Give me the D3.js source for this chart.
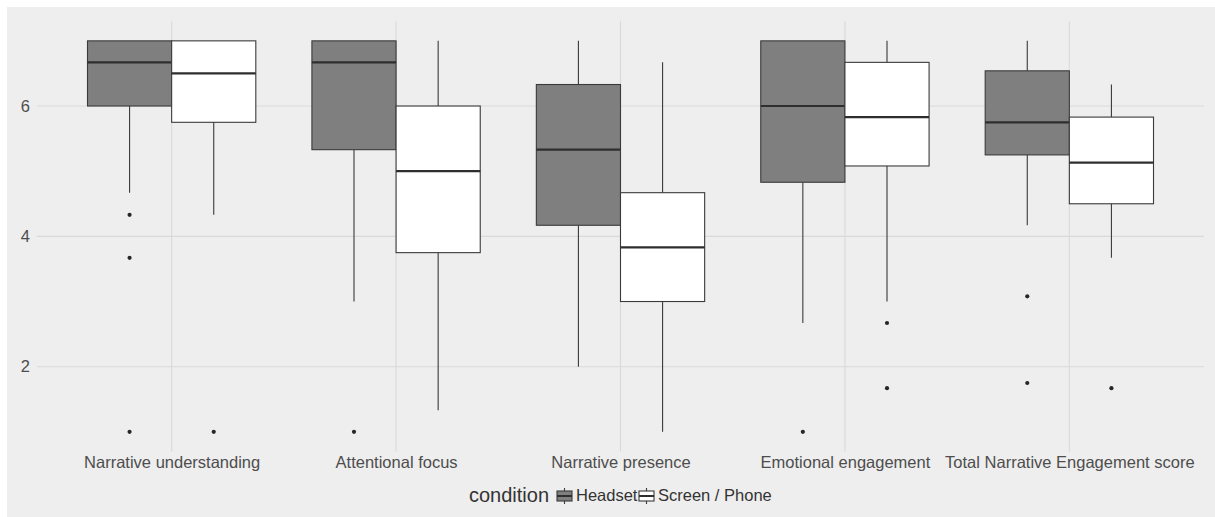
<!DOCTYPE html>
<html>
<head>
<meta charset="utf-8">
<script src="https://cdn.jsdelivr.net/npm/d3@7"></script>
<style>
  html, body { margin: 0; padding: 0; background: #ffffff; }
  svg { display: block; font-family: "Liberation Sans", Arial, sans-serif; }
</style>
</head>
<body>
<svg id="chart" width="1215" height="517"></svg>
<script>
// Narrative engagement subscales by viewing condition (scores on a 1–7 scale)
const categories = [
  "Narrative understanding",
  "Attentional focus",
  "Narrative presence",
  "Emotional engagement",
  "Total Narrative Engagement score"
];
const conditions = ["Headset", "Screen / Phone"];

// Headset: whisker ends, quartiles, medians and outliers
const headsetLow    = [4.67, 3.00, 2.00, 2.67, 4.17];
const headsetQ1     = [6.00, 5.33, 4.17, 4.83, 5.25];
const headsetMedian = [6.67, 6.67, 5.33, 6.00, 5.75];
const headsetQ3     = [7.00, 7.00, 6.33, 7.00, 6.54];
const headsetHigh   = [7.00, 7.00, 7.00, 7.00, 7.00];
const headsetOutliers = [[4.33, 3.67, 1.00], [1.00], [], [1.00], [3.08, 1.75]];

// Screen / Phone
const screenLow    = [4.33, 1.33, 1.00, 3.00, 3.67];
const screenQ1     = [5.75, 3.75, 3.00, 5.08, 4.50];
const screenMedian = [6.50, 5.00, 3.83, 5.83, 5.13];
const screenQ3     = [7.00, 6.00, 4.67, 6.67, 5.83];
const screenHigh   = [7.00, 7.00, 6.67, 7.00, 6.33];
const screenOutliers = [[1.00], [], [], [2.67, 1.67], [1.67]];

const yTicks = [2, 4, 6];

// Assemble one record per box
const boxes = [];
categories.forEach((c, i) => {
  boxes.push({ cat: c, cond: conditions[0], low: headsetLow[i], q1: headsetQ1[i], med: headsetMedian[i], q3: headsetQ3[i], high: headsetHigh[i], out: headsetOutliers[i] });
  boxes.push({ cat: c, cond: conditions[1], low: screenLow[i], q1: screenQ1[i], med: screenMedian[i], q3: screenQ3[i], high: screenHigh[i], out: screenOutliers[i] });
});

const fills = { "Headset": "#7f7f7f", "Screen / Phone": "#ffffff" };
const lineCol = "#3a3a3a";
const textCol = "#4d4d4d";

const svg = d3.select("#chart");

// plot background
svg.append("rect").attr("x", 7).attr("y", 7).attr("width", 1208).attr("height", 510).attr("fill", "#eeeeee");

const panel = { left: 37, right: 1204, top: 21.3, bottom: 451.4 };

const x = d3.scalePoint().domain(categories).range([panel.left, panel.right]).padding(0.6);
const y = d3.scaleLinear().domain([0.7, 7.3]).range([panel.bottom, panel.top]);
const dodge = d3.scaleBand().domain(conditions).range([-0.375 * x.step(), 0.375 * x.step()]).padding(0);

// grid
const grid = svg.append("g").attr("stroke", "#d9d9d9").attr("stroke-width", 1.1);
grid.selectAll("line.h").data(yTicks).join("line")
  .attr("x1", panel.left).attr("x2", panel.right)
  .attr("y1", d => y(d)).attr("y2", d => y(d));
grid.selectAll("line.v").data(categories).join("line")
  .attr("y1", panel.top).attr("y2", panel.bottom)
  .attr("x1", d => x(d)).attr("x2", d => x(d));

// axes (labels only)
const yAxis = svg.append("g").attr("transform", `translate(${panel.left},0)`)
  .call(d3.axisLeft(y).tickValues(yTicks).tickFormat(d3.format("d")).tickSize(0).tickPadding(7));
yAxis.select(".domain").remove();
yAxis.selectAll("text").attr("fill", textCol).style("font-size", "16.5px").style("font-family", "Liberation Sans, Arial, sans-serif");

const xAxis = svg.append("g").attr("transform", `translate(0,${panel.bottom})`)
  .call(d3.axisBottom(x).tickSize(0).tickPadding(5));
xAxis.select(".domain").remove();
xAxis.selectAll("text").attr("fill", textCol).style("font-size", "16.5px").style("font-family", "Liberation Sans, Arial, sans-serif");

// boxplots
const g = svg.append("g").selectAll("g").data(boxes).join("g")
  .attr("transform", d => `translate(${x(d.cat) + dodge(d.cond)},0)`);
const bw = dodge.bandwidth();

g.append("line").attr("x1", bw / 2).attr("x2", bw / 2)
  .attr("y1", d => y(d.q3)).attr("y2", d => y(d.high))
  .attr("stroke", lineCol).attr("stroke-width", 1.1);
g.append("line").attr("x1", bw / 2).attr("x2", bw / 2)
  .attr("y1", d => y(d.q1)).attr("y2", d => y(d.low))
  .attr("stroke", lineCol).attr("stroke-width", 1.1);
g.append("rect").attr("x", 0).attr("width", bw)
  .attr("y", d => y(d.q3)).attr("height", d => y(d.q1) - y(d.q3))
  .attr("fill", d => fills[d.cond]).attr("stroke", lineCol).attr("stroke-width", 1.1);
g.append("line").attr("x1", 0).attr("x2", bw)
  .attr("y1", d => y(d.med)).attr("y2", d => y(d.med))
  .attr("stroke", "#2e2e2e").attr("stroke-width", 2.2);
g.selectAll("circle").data(d => d.out).join("circle")
  .attr("cx", bw / 2).attr("cy", v => y(v)).attr("r", 2.1).attr("fill", "#262626");

// legend
const legend = svg.append("g");
legend.append("text").attr("x", 469).attr("y", 502).text("condition")
  .attr("fill", "#333").style("font-size", "20px");
const keyX = [557, 639];
const labelX = [576, 658];
const ky0 = 488, ky1 = 504;
conditions.forEach((c, i) => {
  const kx = keyX[i], kw = 15, cx = kx + kw / 2;
  const k = legend.append("g");
  k.append("line").attr("x1", cx).attr("x2", cx).attr("y1", ky0).attr("y2", ky1)
    .attr("stroke", lineCol).attr("stroke-width", 1.1);
  k.append("rect").attr("x", kx).attr("y", ky0 + 3).attr("width", kw).attr("height", ky1 - ky0 - 6)
    .attr("fill", fills[c]).attr("stroke", lineCol).attr("stroke-width", 1.1);
  k.append("line").attr("x1", kx).attr("x2", kx + kw).attr("y1", (ky0 + ky1) / 2).attr("y2", (ky0 + ky1) / 2)
    .attr("stroke", "#2e2e2e").attr("stroke-width", 2);
  legend.append("text").attr("x", labelX[i]).attr("y", 501).text(c)
    .attr("fill", "#333").style("font-size", "16.5px");
});
</script>
</body>
</html>
